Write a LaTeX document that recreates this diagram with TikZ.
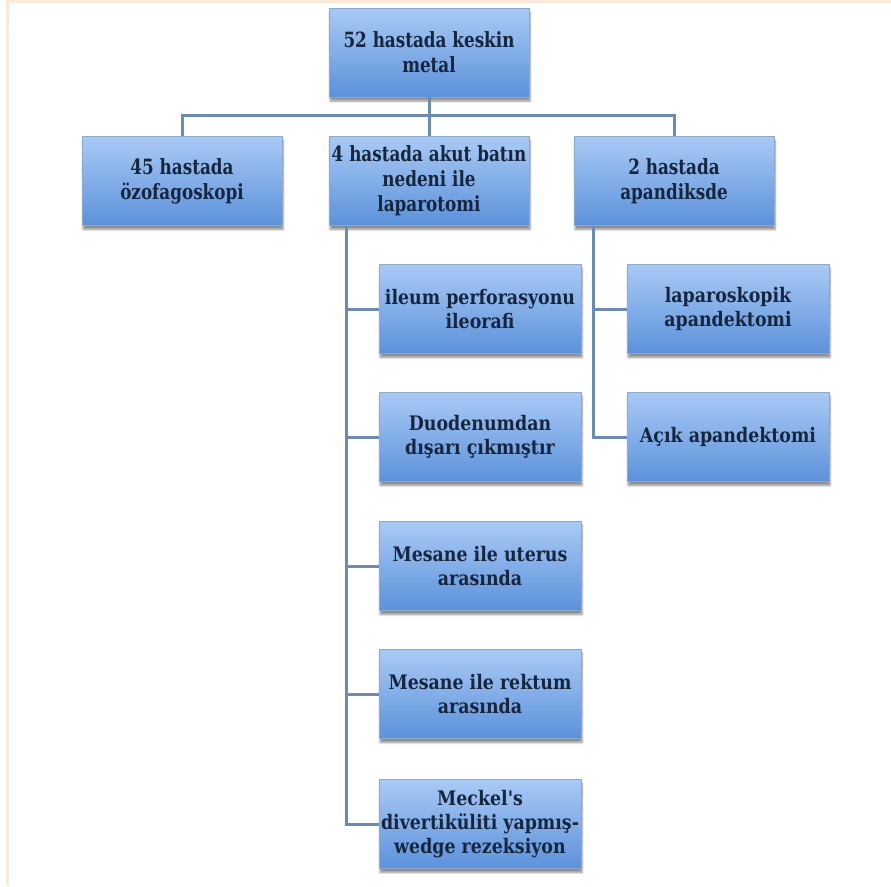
\documentclass[tikz,border=0pt]{standalone}
\usepackage{fontspec}
\setmainfont{DejaVu Serif}
\newfontfamily\topfnt[FakeStretch=0.80]{DejaVu Serif}
\newfontfamily\subfnt[FakeStretch=0.87]{DejaVu Serif}
\usetikzlibrary{shadows.blur}
\definecolor{boxtop}{HTML}{A9CAF5}
\definecolor{boxbot}{HTML}{5C91DB}
\definecolor{boxline}{HTML}{8FA9C9}
\definecolor{conncol}{HTML}{6B8BB4}
\definecolor{txtcol}{HTML}{17263F}
\definecolor{framecol}{HTML}{FDE9D9}
\tikzset{
  box/.style={draw=boxline, line width=0.6pt, top color=boxtop, bottom color=boxbot,
    text=txtcol, align=center, inner sep=0pt, minimum height=89pt,
    blur shadow={shadow xshift=1pt, shadow yshift=-4pt, shadow blur steps=6, shadow opacity=45}},
  topbox/.style={box, minimum width=200pt, font=\topfnt\bfseries\fontsize{21}{25}\selectfont},
  subbox/.style={box, minimum width=202pt, font=\subfnt\bfseries\fontsize{20}{24}\selectfont},
  conn/.style={draw=conncol, line width=3pt}
}
\begin{document}
\begin{tikzpicture}[x=1pt,y=-1pt]
\useasboundingbox (0,0) rectangle (891,886);
\fill[framecol] (6,0) rectangle (891,2.5);
\fill[framecol] (6,0) rectangle (8.5,886);

\node[topbox] (top) at (429,52.5) {52 hastada keskin\\metal};
\node[topbox] (A) at (182,181) {45 hastada\\özofagoskopi};
\node[topbox] (B) at (429,181) {4 hastada akut batın\\nedeni ile\\laparotomi};
\node[topbox] (C) at (674,181) {2 hastada\\apandiksde};

\node[subbox] (b1) at (480,309) {ileum perforasyonu\\ileorafi};
\node[subbox] (b2) at (480,437) {Duodenumdan\\dışarı çıkmıştır};
\node[subbox] (b3) at (480,566) {Mesane ile uterus\\arasında};
\node[subbox] (b4) at (480,694) {Mesane ile rektum\\arasında};
\node[subbox] (b5) at (480,824) {Meckel's\\divertiküliti yapmış-\\wedge rezeksiyon};

\node[subbox] (c1) at (728,309) {laparoskopik\\apandektomi};
\node[subbox] (c2) at (728,437) {Açık apandektomi};

\coordinate (hbar) at (0,115);
\draw[conn] (top.south) -- (B.north);
\draw[conn] (A.north) -- (A.north |- hbar) -- (C.north |- hbar) -- (C.north);

\coordinate (bstem) at ([xshift=18pt]B.south west);
\draw[conn] (bstem) |- (b1.west);
\draw[conn] (bstem) |- (b2.west);
\draw[conn] (bstem) |- (b3.west);
\draw[conn] (bstem) |- (b4.west);
\draw[conn] (bstem) |- (b5.west);

\coordinate (cstem) at ([xshift=20pt]C.south west);
\draw[conn] (cstem) |- (c1.west);
\draw[conn] (cstem) |- (c2.west);
\end{tikzpicture}
\end{document}
